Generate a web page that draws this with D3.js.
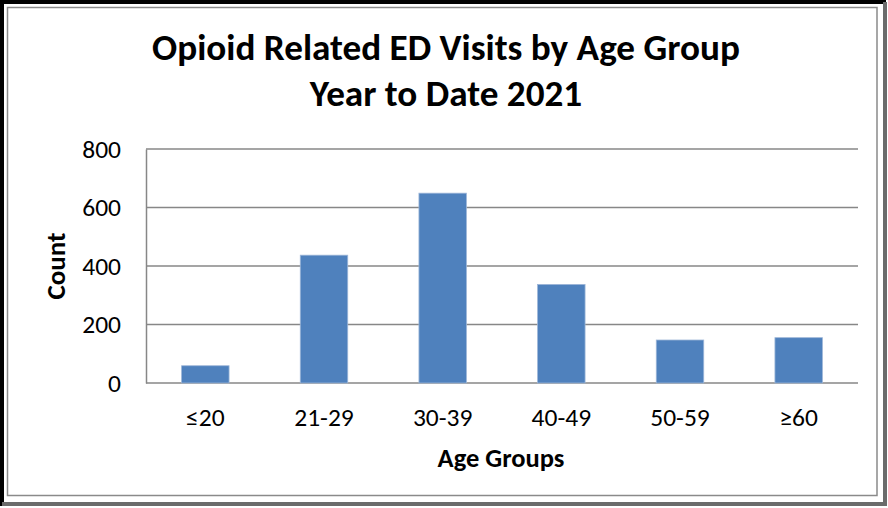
<!DOCTYPE html>
<html>
<head>
<meta charset="utf-8">
<script src="https://cdn.jsdelivr.net/npm/d3@7"></script>
<style>
  body { margin: 0; background: #fff; }
  svg { display: block; }
  text { font-family: Carlito, Calibri, "Open Sans", sans-serif; fill: #000; }
</style>
</head>
<body>
<svg></svg>
<script>
const width = 888;
const height = 508;

// data
const ageGroups = ["≤20", "21-29", "30-39", "40-49", "50-59", "≥60"];
const counts = [59, 437, 649, 337, 147, 155];
const yTicks = [0, 200, 400, 600, 800];
const titleLines = ["Opioid Related ED Visits by Age Group", "Year to Date 2021"];

const margin = { top: 149, right: 30, bottom: 125, left: 146 };

const svg = d3.select("svg").attr("width", width).attr("height", height);

//frame
svg.append("rect")
  .attr("width", width).attr("height", height).attr("fill", "#fff");
svg.append("path")
  .attr("d", `M2,${height - 2} V2 H${width - 2}`)
  .attr("fill", "none").attr("stroke", "#000").attr("stroke-width", 4);
svg.append("path")
  .attr("d", `M2,${height - 4} H${width - 3} V2`)
  .attr("fill", "none").attr("stroke", "#6b6b6b").attr("stroke-width", 4);
svg.append("rect")
  .attr("x", 7.5).attr("y", 7.5)
  .attr("width", width - 4 - 15 + 0.5).attr("height", height - 6 - 15 + 1)
  .attr("fill", "none").attr("stroke", "#8a8a8a").attr("stroke-width", 1.5);

//scales
const x = d3.scaleBand()
  .domain(ageGroups)
  .range([margin.left, width - margin.right])
  .paddingInner(0.6)
  .paddingOuter(0.3);

const y = d3.scaleLinear()
  .domain([0, 800])
  .range([height - margin.bottom, margin.top]);

//gridlines
svg.append("g")
  .selectAll("line")
  .data(yTicks)
  .enter()
  .append("line")
  .attr("x1", margin.left)
  .attr("x2", width - margin.right)
  .attr("y1", (d) => y(d))
  .attr("y2", (d) => y(d))
  .attr("stroke", "#878787")
  .attr("stroke-width", 1.5);

//bars
svg.append("g")
  .selectAll("rect")
  .data(counts)
  .enter()
  .append("rect")
  .attr("x", (d, i) => x(ageGroups[i]))
  .attr("y", (d) => y(d))
  .attr("width", x.bandwidth())
  .attr("height", (d) => y(0) - y(d))
  .attr("fill", "#4f81bd")
  .attr("stroke", "#9db6d8")
  .attr("stroke-width", 0.8);

// axes
const yAxis = d3.axisLeft(y).tickValues(yTicks).tickSize(0).tickPadding(25);
const yG = svg.append("g").attr("transform", `translate(${margin.left},0)`).call(yAxis);
yG.select(".domain").attr("stroke", "#878787").attr("stroke-width", 1.5);
yG.selectAll("text").style("font-size", "25.5px").attr("fill", "#000");

const xAxis = d3.axisBottom(x).tickSize(0).tickPadding(25);
const xG = svg.append("g").attr("transform", `translate(0,${y(0)})`).call(xAxis);
xG.select(".domain").remove();
xG.selectAll("text").style("font-size", "25.5px").attr("fill", "#000");

//titles
svg.append("g")
  .selectAll("text")
  .data(titleLines)
  .enter()
  .append("text")
  .attr("x", 446)
  .attr("y", (d, i) => 60 + i * 46)
  .attr("text-anchor", "middle")
  .style("font-size", "37.2px")
  .style("font-weight", "bold")
  .text((d) => d);

svg.append("text")
  .attr("transform", `translate(65,266) rotate(-90)`)
  .attr("text-anchor", "middle")
  .style("font-size", "27px")
  .style("font-weight", "bold")
  .text("Count");

svg.append("text")
  .attr("x", 501)
  .attr("y", 467)
  .attr("text-anchor", "middle")
  .style("font-size", "26.5px")
  .style("font-weight", "bold")
  .text("Age Groups");
</script>
</body>
</html>
